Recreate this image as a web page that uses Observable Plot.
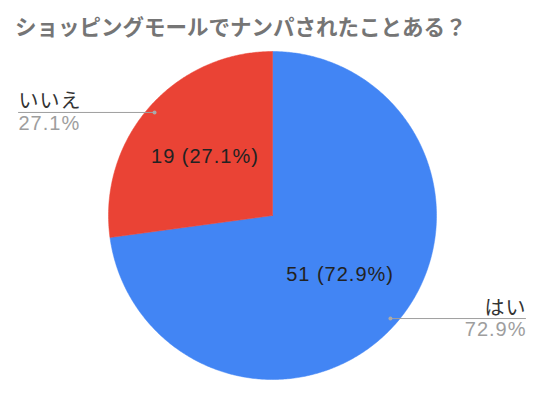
<!DOCTYPE html>
<html><head><meta charset="utf-8">
<script src="https://cdn.jsdelivr.net/npm/d3@7"></script>
<script src="https://cdn.jsdelivr.net/npm/@observablehq/plot@0.6"></script>
<style>
body{margin:0;background:#fff;}
#title{height:44px;box-sizing:border-box;padding:15px 0 0 15px;font:700 21.5px "Noto Sans CJK JP",sans-serif;color:#757575;line-height:1;white-space:nowrap;}
#chart svg text{letter-spacing:1px;}
</style></head><body>
<div id="title">ショッピングモールでナンパされたことある？</div>
<div id="chart"></div>
<script>
const categories = ["はい", "いいえ"];
const values = [51, 19];
const colors = ["#4285F4", "#EA4335"];

const W = 540, H = 354, cx = 272, cy = 171, R = 164;
const total = d3.sum(values);
const fmtPct = d3.format(".1%");
const arcs = d3.pie().sort(null)(values);

const px = (a, r) => cx + r * Math.sin(a);
const py = (a, r) => cy - r * Math.cos(a);

const slices = arcs.map((a, i) => {
  const pts = [{x: cx, y: cy}];
  const n = Math.max(2, Math.ceil((a.endAngle - a.startAngle) / 0.01));
  for (let k = 0; k <= n; k++) {
    const t = a.startAngle + (a.endAngle - a.startAngle) * k / n;
    pts.push({x: px(t, R), y: py(t, R)});
  }
  pts.push({x: cx, y: cy});
  return pts;
});

const info = arcs.map((a, i) => {
  const mid = (a.startAngle + a.endAngle) / 2;
  const right = Math.sin(mid) > 0;
  const dx = px(mid, R * 0.955), dy = py(mid, R * 0.955);
  return {
    name: categories[i],
    pct: fmtPct(values[i] / total),
    inner: `${values[i]} (${fmtPct(values[i] / total)})`,
    ix: px(mid, R * 0.547), iy: py(mid, R * 0.547),
    dx, dy,
    ex: right ? 525 : 18,
    right
  };
});

const font = "Arial, 'Liberation Sans', 'Noto Sans CJK JP', sans-serif";

const marks = [];
slices.forEach((pts, i) => {
  marks.push(Plot.line(pts, {x: "x", y: "y", fill: colors[i], stroke: colors[i], strokeWidth: 0.5}));
});
marks.push(Plot.text(info, {x: "ix", y: "iy", text: "inner", fontSize: 20, fill: "#222", fontFamily: font}));
info.forEach(d => {
  marks.push(Plot.line([{x: d.dx, y: d.dy}, {x: d.ex, y: d.dy}], {x: "x", y: "y", stroke: "#9e9e9e", strokeWidth: 1}));
});
marks.push(Plot.dot(info, {x: "dx", y: "dy", r: 2, fill: "#aaa", stroke: "none"}));
for (const side of [true, false]) {
  const sub = info.filter(d => d.right === side);
  const anchor = side ? "end" : "start";
  const off = side ? 1 : 0;
  marks.push(Plot.text(sub, {x: d => d.ex + off, y: d => d.dy - 4, text: "name", textAnchor: anchor, lineAnchor: "bottom", fontSize: 20, fill: "#333", fontFamily: font}));
  marks.push(Plot.text(sub, {x: d => d.ex + off, y: d => d.dy + 3, text: "pct", textAnchor: anchor, lineAnchor: "top", fontSize: 20, fill: "#9e9e9e", fontFamily: font}));
}

const chart = Plot.plot({
  width: W, height: H,
  margin: 0,
  x: {domain: [0, W], range: [0, W], axis: null},
  y: {domain: [0, H], range: [0, H], axis: null},
  marks
});
document.getElementById("chart").appendChild(chart);
</script>
</body></html>
